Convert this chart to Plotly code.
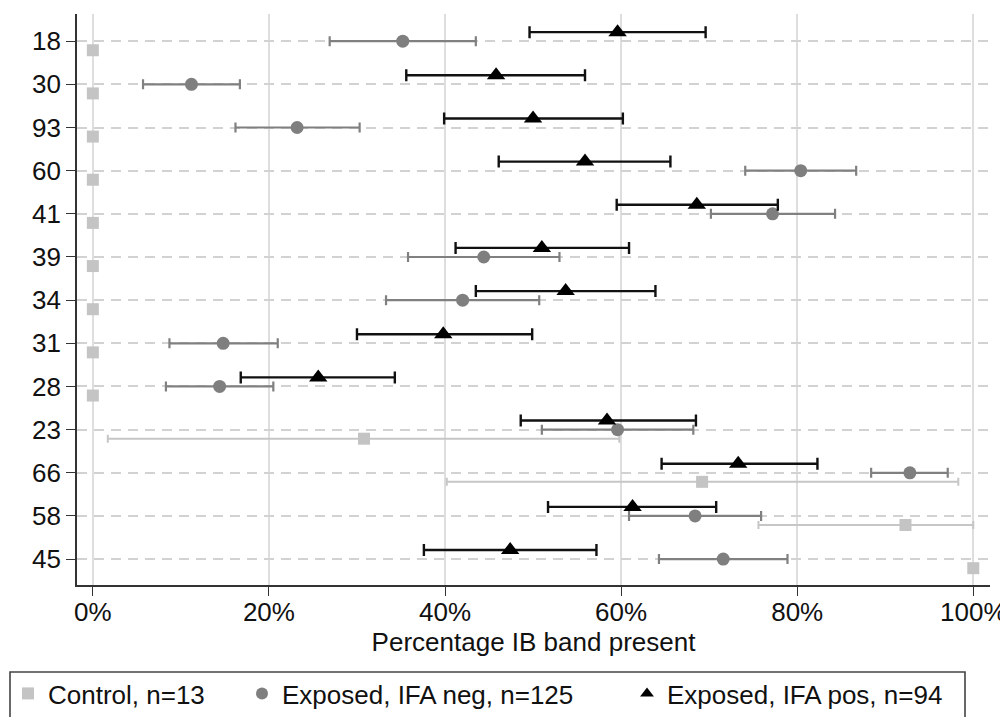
import plotly.graph_objects as go

# ---- data (percent) ----
categories = ["18", "30", "93", "60", "41", "39", "34", "31", "28", "23", "66", "58", "45"]

control_pt = [0, 0, 0, 0, 0, 0, 0, 0, 0, 30.8, 69.2, 92.3, 100]
control_lo = [0, 0, 0, 0, 0, 0, 0, 0, 0, 1.7, 40.2, 75.6, 100]
control_hi = [0, 0, 0, 0, 0, 0, 0, 0, 0, 59.8, 98.3, 100, 100]

neg_pt = [35.2, 11.2, 23.2, 80.4, 77.2, 44.4, 42.0, 14.8, 14.4, 59.6, 92.8, 68.4, 71.6]
neg_lo = [26.9, 5.7, 16.2, 74.1, 70.2, 35.8, 33.3, 8.7, 8.3, 51.0, 88.4, 60.9, 64.3]
neg_hi = [43.5, 16.7, 30.3, 86.7, 84.3, 53.0, 50.7, 21.0, 20.5, 68.2, 97.1, 75.9, 78.9]

pos_pt = [59.6, 45.8, 50.0, 55.9, 68.6, 51.0, 53.7, 39.8, 25.6, 58.4, 73.3, 61.3, 47.4]
pos_lo = [49.6, 35.6, 39.9, 46.1, 59.5, 41.2, 43.5, 30.0, 16.8, 48.6, 64.6, 51.7, 37.6]
pos_hi = [69.6, 55.9, 60.2, 65.6, 77.8, 60.9, 63.9, 49.9, 34.3, 68.5, 82.3, 70.8, 57.2]

series_names = ["Control, n=13", "Exposed, IFA neg, n=125", "Exposed, IFA pos, n=94"]
x_ticks = [0, 20, 40, 60, 80, 100]

FONT = "Liberation Sans, Arial, Helvetica, sans-serif"
TXT = "#111111"
FS = 26

idx = list(range(len(categories)))


def err(pt, lo, hi):
    return dict(
        type="data",
        symmetric=False,
        array=[h - p for p, h in zip(pt, hi)],
        arrayminus=[p - l for p, l in zip(pt, lo)],
    )


series = [
    # name, pt, lo, hi, offset, symbol, size, color, errcolor, capw, thick, legend
    (series_names[0], control_pt, control_lo, control_hi, 0.21, "square", 12, "#c4c4c4", "#c6c6c6", 4, 2.0, "legend"),
    (series_names[1], neg_pt, neg_lo, neg_hi, 0.0, "circle", 13, "#7f7f7f", "#808080", 5, 2.2, "legend2"),
    (series_names[2], pos_pt, pos_lo, pos_hi, -0.21, "triangle-up", 16, "#000000", "#111111", 6, 2.4, "legend3"),
]

fig = go.Figure()
for name, pt, lo, hi, off, sym, size, col, ecol, capw, thick, leg in series:
    e = err(pt, lo, hi)
    e.update(color=ecol, thickness=thick, width=capw)
    fig.add_trace(go.Scatter(
        x=pt,
        y=[i + off for i in idx],
        mode="markers",
        name=name,
        legend=leg,
        marker=dict(symbol=sym, size=size, color=col, line=dict(width=0)),
        error_x=e,
        cliponaxis=False,
    ))

# page body has an 8px margin; figure coordinates are screen - 8
OFF = 8
W, H = 1000, 709
ml, mr, mt, mb = 69, 18, 6, 132
pw = W - ml - mr
ph = H - mt - mb


def px_x(p):
    return (p - OFF - ml) / pw


def px_y(p):
    return (H - mb - (p - OFF)) / ph


legend_common = dict(
    orientation="h",
    xref="paper", yref="paper",
    xanchor="left", yanchor="top",
    bgcolor="rgba(0,0,0,0)",
    borderwidth=0,
    font=dict(family=FONT, size=FS, color=TXT),
    itemsizing="constant",
)

fig.update_layout(
    width=W, height=H,
    margin=dict(l=ml, r=mr, t=mt, b=mb, autoexpand=False),
    paper_bgcolor="white",
    plot_bgcolor="white",
    font=dict(family=FONT, size=FS, color=TXT),
    showlegend=True,
    legend=dict(legend_common, x=px_x(8), y=px_y(670)),
    legend2=dict(legend_common, x=px_x(242), y=px_y(670)),
    legend3=dict(legend_common, x=px_x(627), y=px_y(670)),
    xaxis=dict(
        range=[-1.8, 101.9],
        tickvals=x_ticks,
        ticktext=[f"{v}%" for v in x_ticks],
        showgrid=True, gridcolor="#dedede", gridwidth=1.5,
        zeroline=False,
        showline=True, linecolor="#333333", linewidth=1.6,
        ticks="outside", ticklen=9, tickwidth=1.4, tickcolor="#333333",
        ticklabelstandoff=-6,
        tickfont=dict(family=FONT, size=FS, color=TXT),
        title=dict(text="Percentage IB band present",
                   font=dict(family=FONT, size=FS, color=TXT), standoff=6),
    ),
    yaxis=dict(
        range=[12.6, -0.63],
        tickvals=idx,
        ticktext=categories,
        showgrid=True, gridcolor="#d2d2d2", gridwidth=1.5, griddash="10px,7px",
        zeroline=False,
        showline=True, linecolor="#333333", linewidth=1.6,
        ticks="outside", ticklen=9, tickwidth=1.4, tickcolor="#333333",
        tickfont=dict(family=FONT, size=FS, color=TXT),
    ),
    shapes=[dict(
        type="rect", xref="paper", yref="paper",
        x0=px_x(10), x1=px_x(965), y0=px_y(740), y1=px_y(672),
        line=dict(color="#444444", width=1.6),
        fillcolor="rgba(0,0,0,0)",
    )],
)

fig.write_html("out.html")
